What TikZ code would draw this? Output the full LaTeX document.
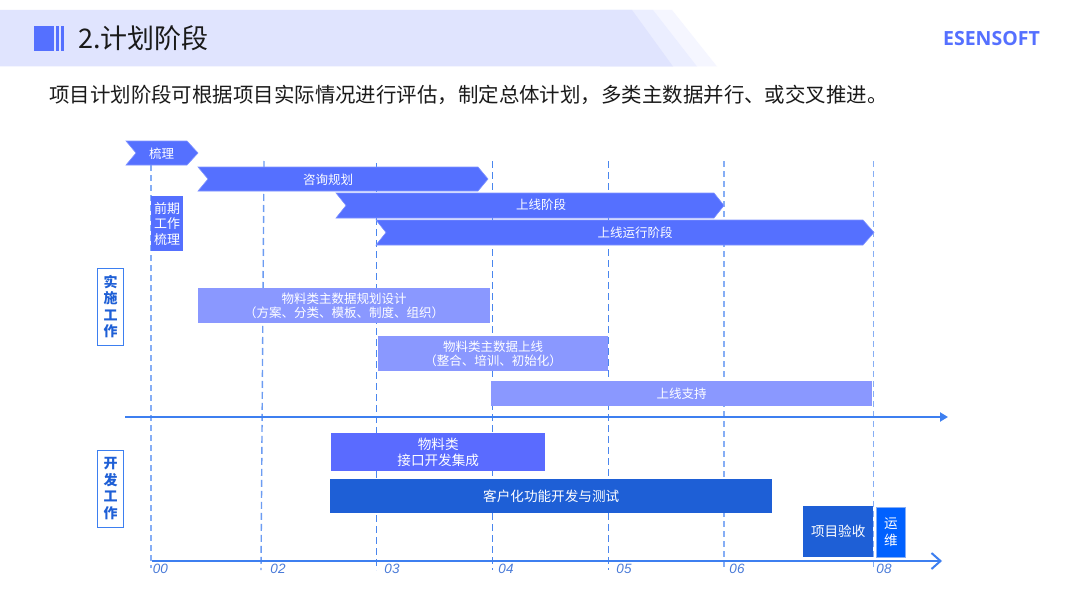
\documentclass[tikz,border=0pt]{standalone}
\usepackage{fontspec}
\setmainfont{Noto Sans CJK SC}
\newfontfamily\latinit[ItalicFont=Liberation Sans Italic]{Liberation Sans}
\newfontfamily\logofont{Open Sans}
\usetikzlibrary{arrows.meta}
\definecolor{bandA}{HTML}{E0E4FE}
\definecolor{bandB}{HTML}{EBEEFF}
\definecolor{bandC}{HTML}{F5F6FF}
\definecolor{iris}{HTML}{5570FF}
\definecolor{soft}{HTML}{8A98FF}
\definecolor{mid}{HTML}{5A6BFF}
\definecolor{deep}{HTML}{1E5FD6}
\definecolor{vivid}{HTML}{0061FF}
\definecolor{axisblue}{HTML}{3D7FF0}
\definecolor{dashblue}{HTML}{6C9CF2}
\definecolor{dashthin}{HTML}{4A86EE}
\definecolor{dashwide}{HTML}{86AEF5}
\definecolor{ticktext}{HTML}{4A7BD8}
\definecolor{inktext}{HTML}{1A1A1A}
\tikzset{
  x=1pt,y=-1pt,
  chev/.style={fill=iris,draw=iris!75!white,line width=.6pt},
  barlabel/.style={text=white,font=\fontsize{12.5}{14.5}\selectfont,align=center,inner sep=0pt},
  vline/.style={dashblue,line width=1.4pt,dash pattern=on 7pt off 4pt},
  vthin/.style={dashthin,line width=1pt,dash pattern=on 7pt off 4pt},
  vwide/.style={dashwide,line width=1.7pt,dash pattern=on 6pt off 4pt},
  sidebox/.style={draw=axisblue,fill=white,line width=1pt,minimum width=25.5pt,minimum height=77pt,inner sep=0pt,
    text=deep,align=center,font=\fontsize{14}{16.5}\selectfont\bfseries},
  bar/.style={anchor=north west,inner sep=0pt,text=white,align=center,font=\fontsize{12.5}{14.5}\selectfont},
  devfont/.style={font=\fontsize{13.6}{16}\selectfont},
  ticklab/.style={text=ticktext,font=\latinit\itshape\fontsize{13.5}{15}\selectfont,inner sep=0pt},
}
\newcommand{\chevron}[7]{%
  \fill[chev] (#2,#6) -- (#4,#6) -- (#5,{(#6+#7)/2}) -- (#4,#7) -- (#2,#7) -- (#3,{(#6+#7)/2}) -- cycle;
  \coordinate (#1) at ({(#3+#4)/2},{(#6+#7)/2});
}
\begin{document}
\begin{tikzpicture}
\useasboundingbox (0,0) rectangle (1080,602);
\fill[white] (0,0) rectangle (1080,602);
% header band
\fill[bandC] (600,10) -- (672,10) -- (717,66.5) -- (600,66.5) -- cycle;
\fill[bandB] (600,10) -- (653,10) -- (697,66.5) -- (600,66.5) -- cycle;
\fill[bandA] (0,10) -- (632,10) -- (673,66.5) -- (0,66.5) -- cycle;
\fill[iris] (34,26) rectangle (54,51);
\fill[iris] (56,26) rectangle (59,51);
\fill[iris] (61,26) rectangle (64,51);
\node[anchor=west,inner sep=0pt,text=inktext,font=\fontsize{27}{30}\selectfont] (title) at (78,38) {2.计划阶段};
\node[anchor=east,inner sep=0pt,text=iris,font=\logofont\bfseries\fontsize{19.5}{22}\selectfont] (logo) at (1040,38.5) {ESENSOFT};
\node[anchor=west,inner sep=0pt,text=inktext,font=\fontsize{20.45}{24}\selectfont] (intro) at (49,95) {项目计划阶段可根据项目实际情况进行评估，制定总体计划，多类主数据并行、或交叉推进。};

% dashed guide lines
\coordinate (g0t) at (151,165); \coordinate (g0b) at (151,568);
\coordinate (g2t) at (264,161); \coordinate (g2b) at (261,570);
\coordinate (g3t) at (376,163); \coordinate (g3b) at (376,570);
\coordinate (g4t) at (492,161); \coordinate (g4b) at (492,570);
\coordinate (g5t) at (608,161); \coordinate (g5b) at (608,570);
\coordinate (g6t) at (724,161); \coordinate (g6b) at (724,570);
\coordinate (g8t) at (873.5,161); \coordinate (g8b) at (873.5,570);
\draw[vwide] (g0t) -- (g0b);
\draw[vline] (g2t) -- (g2b);
\foreach \g in {3,4,5} \draw[vthin] (g\g t) -- (g\g b);
\foreach \g in {6,8} \draw[vwide] (g\g t) -- (g\g b);

% chevrons
\chevron{c1}{126}{136}{187}{198}{141}{165}
\node[barlabel] (n1) at ([yshift=-.6pt]c1) {梳理};
\chevron{c2}{198}{208}{478}{488}{167}{191}
\node[barlabel] (n2) at (328,179.6) {咨询规划};
\chevron{c3}{336}{346}{714}{724}{193}{218}
\node[barlabel] (n3) at (541,205) {上线阶段};
\chevron{c4}{376}{386}{863}{874}{220}{245}
\node[barlabel] (n4) at (635,232.4) {上线运行阶段};

% plan boxes
\node[bar,fill=iris,minimum width=32pt,minimum height=55pt,font=\fontsize{13}{15.5}\selectfont] (pre) at (151,196) {前期\\工作\\梳理};
\node[bar,fill=soft,minimum width=292pt,minimum height=35pt] (b1) at (198,288) {物料类主数据规划设计\\（方案、分类、模板、制度、组织）};
\node[bar,fill=soft,minimum width=230pt,minimum height=35pt] (b2) at (378,336) {物料类主数据上线\\（整合、培训、初始化）};
\node[bar,fill=soft,minimum width=381pt,minimum height=25pt] (b3) at (491,381) {上线支持};

% side labels
\node[sidebox] (s1) at (110.5,306.5) {实\\施\\工\\作};
\node[sidebox] (s2) at (110.5,488.5) {开\\发\\工\\作};

% axes
\coordinate (a1s) at (125,417); \coordinate (a1e) at (948,417);
\draw[axisblue,line width=2pt,-{Triangle[length=8pt,width=9pt]}] (a1s) -- (a1e);
\coordinate (a2s) at (152,561); \coordinate (a2e) at (942,561);
\draw[axisblue,line width=2pt,-{Straight Barb[length=9pt,width=16pt,line width=2pt]}] (a2s) -- (a2e);

% development boxes
\node[bar,fill=mid,minimum width=214pt,minimum height=38pt,devfont] (d1) at (331,433) {物料类\\接口开发集成};
\node[bar,fill=deep,minimum width=442pt,minimum height=34pt,devfont] (d2) at (330,479) {客户化功能开发与测试};
\node[bar,fill=deep,minimum width=70pt,minimum height=51pt,devfont] (d3) at (803,506) {项目验收};
\node[bar,fill=vivid,draw=dashwide,line width=1pt,minimum width=29pt,minimum height=50pt,font=\fontsize{13.6}{17}\selectfont] (d4) at (876,507) {运\\维};

% tick labels
\node[ticklab] (t0) at (160.5,569) {00};
\node[ticklab] (t2) at (278,569) {02};
\node[ticklab] (t3) at (392,569) {03};
\node[ticklab] (t4) at (506,569) {04};
\node[ticklab] (t5) at (624,569) {05};
\node[ticklab] (t6) at (737,569) {06};
\node[ticklab] (t8) at (884,569) {08};
\end{tikzpicture}
\end{document}
